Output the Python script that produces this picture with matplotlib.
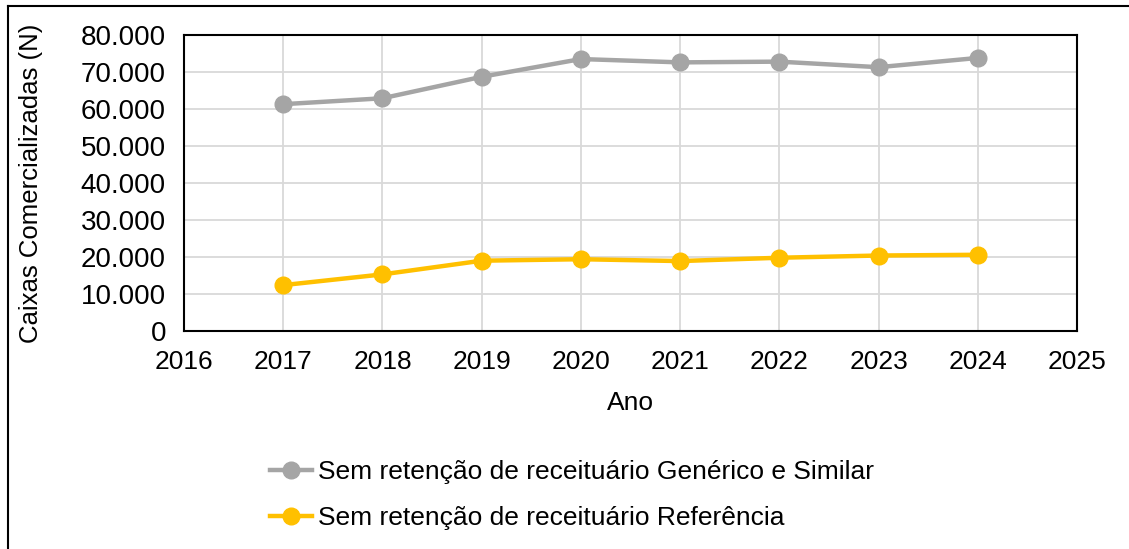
import matplotlib.pyplot as plt
from matplotlib.ticker import FuncFormatter
from matplotlib.lines import Line2D

plt.rcParams['font.family'] = ['Liberation Sans', 'DejaVu Sans']

# Data
anos = [2017, 2018, 2019, 2020, 2021, 2022, 2023, 2024]
generico_similar = [61300, 62900, 68700, 73500, 72600, 72800, 71300, 73800]
referencia = [12400, 15300, 19000, 19400, 18900, 19800, 20400, 20600]
labels = ["Sem retenção de receituário Genérico e Similar",
          "Sem retenção de receituário Referência"]

fig = plt.figure(figsize=(11.29, 5.49), dpi=100)
ax = fig.add_axes([184 / 1129, 1 - 331 / 549, (1077 - 184) / 1129, (331 - 35) / 549])

ax.plot(anos, generico_similar, color='#a5a5a5', lw=3.2, marker='o', ms=12, label=labels[0], zorder=3)
ax.plot(anos, referencia, color='#ffc000', lw=3.2, marker='o', ms=12, label=labels[1], zorder=3)

ax.set_xlim(2016, 2025)
ax.set_ylim(0, 80000)
ax.set_xticks(range(2016, 2026))
ax.set_yticks(range(0, 80001, 10000))
ax.yaxis.set_major_formatter(FuncFormatter(lambda v, p: f"{int(v):,}".replace(",", ".")))
ax.grid(True, color='#d9d9d9', lw=1.3, zorder=0)
ax.tick_params(length=0, labelsize=19)
ax.tick_params(axis='y', labelsize=20, pad=13)
ax.tick_params(axis='x', pad=14)
for s in ax.spines.values():
    s.set_linewidth(1.5)
    s.set_color('black')

ax.set_xlabel("Ano", fontsize=19, labelpad=12)
ax.set_ylabel("Caixas Comercializadas (N)", fontsize=18.5, labelpad=27)

fig.legend(loc='center', bbox_to_anchor=(572 / 1129, 1 - 495 / 549), frameon=False,
           fontsize=19, handlelength=1.6, labelspacing=0.85, handletextpad=0.25)

# figure border (top and left visible)
fig.add_artist(Line2D([8 / 1129, 8 / 1129], [0, 1 - 6 / 549], transform=fig.transFigure, color='black', lw=1.5))
fig.add_artist(Line2D([8 / 1129, 1], [1 - 6 / 549, 1 - 6 / 549], transform=fig.transFigure, color='black', lw=1.5))

fig.savefig("out.png", dpi=100)
